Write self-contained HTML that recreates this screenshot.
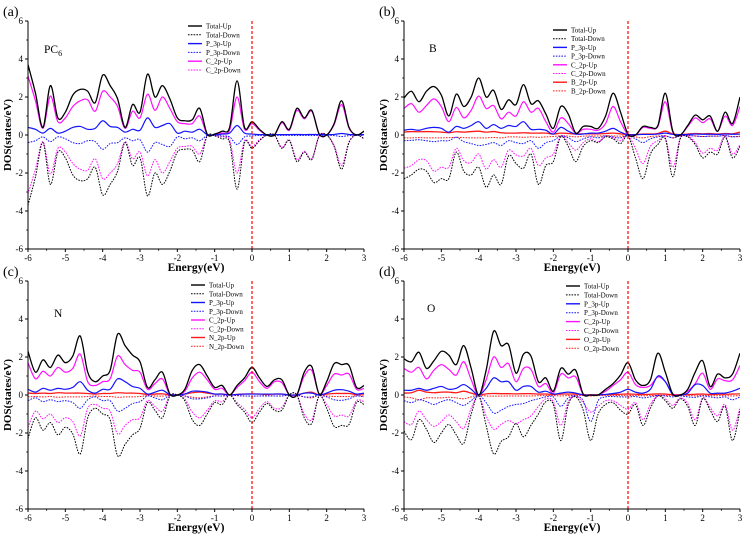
<!DOCTYPE html>
<html><head><meta charset="utf-8"><style>
html,body{margin:0;padding:0;background:#fff}
svg{display:block;font-family:"Liberation Serif",serif}
</style></head><body>
<svg id="fig" width="746" height="541" viewBox="0 0 746 541"></svg>
<script>
// energy grid: -6 to 3 in 0.2 eV steps (46 points)
const aTotalUp=[3.7,2.2,0.4,2.6,0.9,1.2,2.1,2.4,2.3,1.7,3.15,2.6,1.9,0.4,1.6,1.2,3.2,2.0,2.6,1.9,0.9,0.75,0.8,1.4,0.05,0.05,0.2,0.4,2.85,0.4,0.7,0.3,0,0,0.7,0.3,1.4,0.9,1.3,0.05,0,0.6,1.8,0.4,0,0.2];
const aCUp=[3.1,1.8,0.35,2.05,0.7,0.9,1.5,1.8,1.85,1.25,2.3,2.0,1.5,0.35,1.25,0.9,2.15,1.3,2.0,1.4,0.7,0.6,0.6,1.0,0.03,0.03,0.1,0.25,2.0,0.3,0.6,0.25,0,0,0.65,0.25,1.3,0.85,1.25,0.05,0,0.55,1.6,0.35,0,0.2];
const aPUp=[0.4,0.3,0.1,0.35,0.1,0.2,0.4,0.45,0.3,0.35,0.75,0.45,0.4,0.15,0.3,0.25,0.9,0.4,0.5,0.6,0.1,0.2,0.15,0.3,0.02,0,0.05,0.1,0.5,0.1,0.05,0.02,0.02,0.02,0.02,0.02,0.03,0.02,0.03,0.02,0.02,0.03,0.08,0.03,0.02,0.02];

const bTotalUp=[1.95,2.3,1.75,2.3,2.55,2.1,1.0,2.15,1.5,2.0,3.0,2.0,2.35,1.35,1.85,1.6,2.65,1.65,1.8,1.1,0.35,1.5,1.1,0.1,0.45,0.45,0.35,1.0,2.2,1.2,0.05,0,0.45,0.4,0.5,2.2,0.2,0,0.5,1.05,0.8,1.0,0.2,1.2,0.6,2.0];
const bCUp=[1.4,1.65,1.2,1.55,1.9,1.5,0.7,1.45,0.9,1.3,2.05,1.4,1.55,0.85,1.2,1.0,1.75,1.2,1.4,0.7,0.15,0.9,0.6,0.1,0.3,0.3,0.25,0.6,1.5,0.7,0.02,0,0.4,0.35,0.45,1.75,0.15,0,0.45,0.9,0.65,0.85,0.2,1.0,0.5,1.5];
const bPUp=[0.25,0.3,0.25,0.35,0.4,0.35,0.15,0.45,0.35,0.5,0.7,0.35,0.55,0.35,0.5,0.45,0.7,0.3,0.3,0.25,0.05,0.4,0.2,0.05,0.05,0.1,0.1,0.2,0.35,0.15,0.02,0.02,0.03,0.03,0.05,0.1,0.03,0.02,0.03,0.05,0.04,0.04,0.03,0.05,0.04,0.05];
const bXUp=[0.15,0.18,0.17,0.18,0.17,0.15,0.12,0.17,0.15,0.18,0.2,0.15,0.18,0.12,0.1,0.1,0.12,0.1,0.1,0.1,0.05,0.1,0.08,0.05,0.06,0.06,0.06,0.08,0.1,0.06,0.02,0.02,0.05,0.05,0.08,0.2,0.05,0.02,0.05,0.08,0.06,0.08,0.05,0.08,0.06,0.15];
const bTotalDn=[-2.3,-2.1,-1.8,-1.9,-2.5,-2.3,-2.3,-0.9,-1.9,-2.1,-1.7,-2.75,-2.1,-2.6,-1.1,-1.5,-1.75,-1.0,-2.6,-1.6,-1.4,-0.1,-0.6,-1.4,-0.6,-0.3,-0.4,-0.1,-0.2,-0.45,-0.05,-1.2,-2.3,-1.0,-0.5,-0.2,-2.2,-0.2,-0.1,-0.5,-1.2,-0.9,-1.0,-0.1,-1.2,-0.6];
const bCDn=[-1.75,-1.6,-1.3,-1.35,-1.9,-1.7,-1.7,-0.7,-1.35,-1.45,-1.0,-1.8,-1.3,-1.7,-0.8,-1.05,-1.1,-0.7,-1.6,-1.2,-1.0,-0.05,-0.4,-0.8,-0.4,-0.2,-0.35,-0.05,-0.15,-0.3,-0.03,-0.7,-1.5,-0.6,-0.3,-0.15,-1.7,-0.15,-0.05,-0.4,-0.95,-0.7,-0.8,-0.05,-1.0,-0.5];
const bPDn=[-0.3,-0.28,-0.25,-0.3,-0.35,-0.3,-0.3,-0.12,-0.35,-0.45,-0.55,-0.5,-0.4,-0.55,-0.3,-0.4,-0.45,-0.3,-0.7,-0.4,-0.3,-0.05,-0.15,-0.35,-0.2,-0.1,-0.15,-0.05,-0.1,-0.15,-0.02,-0.2,-0.4,-0.2,-0.1,-0.05,-0.15,-0.05,-0.03,-0.05,-0.08,-0.06,-0.06,-0.03,-0.1,-0.08];
const bXDn=[-0.15,-0.15,-0.14,-0.15,-0.15,-0.15,-0.14,-0.12,-0.14,-0.15,-0.15,-0.15,-0.13,-0.15,-0.1,-0.1,-0.12,-0.1,-0.12,-0.1,-0.08,-0.04,-0.06,-0.1,-0.06,-0.05,-0.05,-0.04,-0.05,-0.06,-0.02,-0.1,-0.15,-0.08,-0.05,-0.04,-0.15,-0.04,-0.03,-0.05,-0.08,-0.06,-0.06,-0.03,-0.08,-0.06];

const cTotalUp=[2.3,1.2,1.85,1.45,2.1,1.7,2.05,3.1,1.2,0.7,1.0,1.3,3.2,2.6,2.1,1.75,0.4,0.8,1.2,0.05,0,0.3,1.3,1.6,1.0,0.4,0.5,0,0.5,0.9,1.45,0.9,0.45,0.8,0.8,0,0,1.2,1.5,0.05,0.7,1.65,1.6,1.55,0.4,0.5];
const cCUp=[1.7,0.85,1.25,1.0,1.45,1.2,1.4,2.15,0.7,0.5,0.7,0.85,2.05,1.6,1.3,1.2,0.3,0.6,0.85,0.03,0,0.2,0.9,1.2,0.8,0.3,0.35,0,0.4,0.75,1.2,0.7,0.35,0.7,0.65,0,0,1.0,1.3,0.05,0.5,1.1,1.05,1.1,0.3,0.35];
const cPUp=[0.3,0.15,0.35,0.25,0.35,0.3,0.4,0.7,0.25,0.1,0.3,0.3,0.85,0.7,0.45,0.35,0.05,0.15,0.25,0.02,0,0.05,0.2,0.2,0.15,0.05,0.05,0,0.03,0.05,0.05,0.05,0.05,0.05,0.05,0,0,0.1,0.1,0,0.1,0.25,0.28,0.2,0.05,0.1];
const cXUp=[0.1,0.08,0.1,0.08,0.12,0.1,0.1,0.1,0.08,0.05,0.08,0.08,0.12,0.1,0.1,0.08,0.03,0.05,0.06,0.01,0,0.05,0.12,0.15,0.1,0.05,0.05,0,0.03,0.05,0.06,0.05,0.03,0.05,0.05,0,0,0.1,0.15,0,0.05,0.08,0.08,0.08,0.03,0.05];

const dTotalUp=[1.9,1.75,2.25,1.4,1.8,2.3,2.1,1.6,2.6,1.4,0,1.3,3.35,2.6,2.65,1.15,2.15,2.05,0.7,0.9,0.2,1.4,1.1,1.3,0.05,0,0,0.3,0.6,1.05,1.7,0.8,0.5,0.8,2.2,1.2,0.05,0,0.3,1.2,1.8,0.45,1.1,0.9,1.1,2.2];
const dCUp=[1.4,1.2,1.45,0.85,1.3,1.6,1.35,1.05,1.75,0.8,0,0.8,2.0,1.45,1.65,0.7,1.4,1.35,0.45,0.6,0.1,1.1,0.9,0.95,0.03,0,0,0.2,0.5,0.8,1.2,0.55,0.4,0.5,0.95,0.7,0.05,0,0.2,0.6,1.15,0.3,0.85,0.75,0.8,1.55];
const dPUp=[0.25,0.25,0.35,0.25,0.35,0.45,0.3,0.35,0.55,0.3,0,0.35,0.9,0.7,0.7,0.25,0.45,0.45,0.15,0.2,0.05,0.1,0.15,0.1,0,0,0,0.03,0.08,0.15,0.3,0.15,0.1,0.3,1.0,0.7,0.02,0,0.1,0.55,0.5,0.1,0.1,0.1,0.2,0.35];
const dXUp=[0.1,0.12,0.25,0.15,0.12,0.15,0.15,0.12,0.2,0.1,0,0.06,0.08,0.07,0.07,0.06,0.07,0.07,0.05,0.05,0.03,0.05,0.05,0.05,0.02,0.01,0.01,0.02,0.03,0.04,0.05,0.04,0.03,0.04,0.06,0.05,0.02,0.01,0.02,0.04,0.05,0.03,0.04,0.04,0.05,0.06];
const dTotalDn=[-1.9,-2.35,-1.3,-1.8,-2.5,-2.0,-1.55,-2.1,-2.55,-1.0,-0.05,-1.6,-3.1,-2.45,-2.2,-1.5,-2.2,-1.6,-1.0,-0.35,-0.5,-2.4,-0.5,-0.1,-0.8,-2.4,-1.0,-0.5,-0.4,-0.8,-1.0,-0.5,-1.6,-0.7,-0.05,-0.3,-0.7,-0.2,-0.6,-1.6,-0.2,-0.8,-1.4,-0.6,-2.4,-0.8];
const dCDn=[-1.4,-1.55,-0.85,-1.3,-1.65,-1.4,-1.05,-1.4,-1.75,-0.7,-0.03,-1.1,-1.8,-1.55,-1.35,-1.5,-1.3,-1.1,-0.6,-0.2,-0.35,-1.6,-0.35,-0.05,-0.4,-0.9,-0.6,-0.3,-0.3,-0.55,-0.75,-0.4,-1.3,-0.5,-0.03,-0.2,-0.55,-0.15,-0.45,-1.3,-0.15,-0.65,-1.1,-0.5,-1.85,-0.65];
const dPDn=[-0.3,-0.4,-0.25,-0.35,-0.5,-0.35,-0.25,-0.4,-0.55,-0.3,0,-0.4,-0.95,-0.8,-0.6,-0.5,-0.45,-0.3,-0.2,-0.1,-0.1,-0.6,-0.15,-0.05,-0.3,-1.4,-0.3,-0.1,-0.08,-0.1,-0.1,-0.08,-0.15,-0.1,-0.02,-0.05,-0.1,-0.05,-0.1,-0.12,-0.05,-0.1,-0.15,-0.1,-0.25,-0.1];
const dXDn=[-0.1,-0.15,-0.25,-0.15,-0.15,-0.15,-0.12,-0.15,-0.2,-0.1,0,-0.05,-0.06,-0.06,-0.05,-0.05,-0.05,-0.05,-0.04,-0.03,-0.03,-0.05,-0.03,-0.02,-0.03,-0.05,-0.03,-0.02,-0.02,-0.03,-0.03,-0.02,-0.04,-0.03,-0.01,-0.02,-0.03,-0.02,-0.02,-0.04,-0.02,-0.03,-0.04,-0.03,-0.05,-0.03];

const xTicks=[-6,-5,-4,-3,-2,-1,0,1,2,3];
const yTicks=[-6,-4,-2,0,2,4,6];

const NS="http://www.w3.org/2000/svg";
const svg=document.getElementById('fig');
function el(tag,attrs,parent){const e=document.createElementNS(NS,tag);for(const k in attrs)e.setAttribute(k,attrs[k]);(parent||svg).appendChild(e);return e;}
function neg(a){return a.map(v=>-v);}

const BLUE="#1414ff",MAG="#ff10ff",RED="#ff1a1a";
const panels=[
 {id:'a',x0:28,x1:364,y0:21,y1:249,tag:'(a)',lab:'PC',sub:'6',labX:44,labY:53,legX:188,legY:26,legDy:8.8,
  series:[['Total-Up',aTotalUp,'#000',false,1.3],['Total-Down',neg(aTotalUp),'#000',true,1],['P_3p-Up',aPUp,BLUE,false,1.2],['P_3p-Down',neg(aPUp),BLUE,true,1],['C_2p-Up',aCUp,MAG,false,1.2],['C_2p-Down',neg(aCUp),MAG,true,1]]},
 {id:'b',x0:404,x1:740,y0:21,y1:249,tag:'(b)',lab:'B',sub:'',labX:429,labY:52,legX:553,legY:30,legDy:8.7,
  series:[['Total-Up',bTotalUp,'#000',false,1.3],['Total-Down',bTotalDn,'#000',true,1],['P_3p-Up',bPUp,BLUE,false,1.2],['P_3p-Down',bPDn,BLUE,true,1],['C_2p-Up',bCUp,MAG,false,1.2],['C_2p-Down',bCDn,MAG,true,1],['B_2p-Up',bXUp,RED,false,1.3],['B_2p-Down',bXDn,RED,true,1]]},
 {id:'c',x0:28,x1:364,y0:281,y1:509,tag:'(c)',lab:'N',sub:'',labX:54,labY:317,legX:191,legY:285,legDy:8.75,
  series:[['Total-Up',cTotalUp,'#000',false,1.3],['Total-Down',neg(cTotalUp),'#000',true,1],['P_3p-Up',cPUp,BLUE,false,1.2],['P_3p-Down',neg(cPUp),BLUE,true,1],['C_2p-Up',cCUp,MAG,false,1.2],['C_2p-Down',neg(cCUp),MAG,true,1],['N_2p-Up',cXUp,RED,false,1.3],['N_2p-Down',neg(cXUp),RED,true,1]]},
 {id:'d',x0:404,x1:740,y0:281,y1:509,tag:'(d)',lab:'O',sub:'',labX:427,labY:312,legX:566,legY:286,legDy:8.9,
  series:[['Total-Up',dTotalUp,'#000',false,1.3],['Total-Down',dTotalDn,'#000',true,1],['P_3p-Up',dPUp,BLUE,false,1.2],['P_3p-Down',dPDn,BLUE,true,1],['C_2p-Up',dCUp,MAG,false,1.2],['C_2p-Down',dCDn,MAG,true,1],['O_2p-Up',dXUp,RED,false,1.3],['O_2p-Down',dXDn,RED,true,1]]}
];

function smoothPath(pts){
  let d=`M${pts[0][0].toFixed(2)},${pts[0][1].toFixed(2)}`;
  for(let i=0;i<pts.length-1;i++){
    const p0=pts[Math.max(0,i-1)],p1=pts[i],p2=pts[i+1],p3=pts[Math.min(pts.length-1,i+2)];
    const c1=[p1[0]+(p2[0]-p0[0])/6,p1[1]+(p2[1]-p0[1])/6];
    const c2=[p2[0]-(p3[0]-p1[0])/6,p2[1]-(p3[1]-p1[1])/6];
    d+=`C${c1[0].toFixed(2)},${c1[1].toFixed(2)} ${c2[0].toFixed(2)},${c2[1].toFixed(2)} ${p2[0].toFixed(2)},${p2[1].toFixed(2)}`;
  }
  return d;
}

panels.forEach(p=>{
  const g=el('g',{});
  
  
  const sx=v=>p.x0+(v+6)/9*(p.x1-p.x0);
  const sy=v=>p.y1-(v+6)/12*(p.y1-p.y0);
  // clip
  const cp=el('clipPath',{id:'clip'+p.id},g);
  el('rect',{x:p.x0,y:p.y0,width:p.x1-p.x0,height:p.y1-p.y0},cp);
  // series
  const sg=el('g',{'clip-path':`url(#clip${p.id})`},g);
  p.series.slice().reverse().forEach(s=>{
    const pts=s[1].map((v,i)=>[sx(-6+0.2*i),sy(v)]);
    const path=el('path',{d:smoothPath(pts),fill:'none',stroke:s[2],'stroke-width':s[4],'stroke-dasharray':s[3]?'1.6,1.2':'none','stroke-linejoin':'round'},sg);
    
    
  });
  // fermi line
  const fl=el('line',{x1:sx(0),x2:sx(0),y1:p.y0,y2:p.y1,stroke:'#ff0000','stroke-width':1.2,'stroke-dasharray':'3,2'},g);
  
  
  // axes
  const ax=el('path',{d:`M${p.x0},${p.y0}V${p.y1}H${p.x1}`,fill:'none',stroke:'#000','stroke-width':1},g);
  
  
  xTicks.forEach((t,i)=>{
    el('line',{x1:sx(t),x2:sx(t),y1:p.y1,y2:p.y1+3,stroke:'#000','stroke-width':1},g);
    if(i<xTicks.length-1) el('line',{x1:sx(t+0.5),x2:sx(t+0.5),y1:p.y1,y2:p.y1+1.8,stroke:'#000','stroke-width':0.8},g);
    const tx=el('text',{x:sx(t),y:p.y1+12,'font-size':9,'text-anchor':'middle'},g);
    tx.textContent=t;
    
    
  });
  yTicks.forEach((t,i)=>{
    el('line',{x1:p.x0-3,x2:p.x0,y1:sy(t),y2:sy(t),stroke:'#000','stroke-width':1},g);
    if(i<yTicks.length-1) el('line',{x1:p.x0-1.8,x2:p.x0,y1:sy(t+1),y2:sy(t+1),stroke:'#000','stroke-width':0.8},g);
    const ty=el('text',{x:p.x0-5,y:sy(t)+3,'font-size':9,'text-anchor':'end'},g);
    ty.textContent=t;
    
    
  });
  const xt=el('text',{x:(p.x0+p.x1)/2,y:p.y1+22,'font-size':11.5,'font-weight':'bold','text-anchor':'middle'},g);
  xt.textContent='Energy(eV)';
  
  
  const cy=(p.y0+p.y1)/2, yx=p.x0-17;
  const yt=el('text',{x:yx,y:cy,'font-size':11,'font-weight':'bold','text-anchor':'middle',transform:`rotate(-90 ${yx} ${cy})`},g);
  yt.textContent='DOS(states/eV)';
  
  
  const pt=el('text',{x:p.x0-25,y:p.y0-5,'font-size':14},g);
  pt.textContent=p.tag;
  
  
  const lb=el('text',{x:p.labX,y:p.labY,'font-size':11.5},g);
  lb.textContent=p.lab;
  if(p.sub){const ts=el('tspan',{'font-size':8,dy:3},lb);ts.textContent=p.sub;}
  
  
  // legend
  p.series.forEach((s,i)=>{
    const ly=p.legY+i*p.legDy;
    const lg=el('g',{},g);
    
    
    el('line',{x1:p.legX,x2:p.legX+14,y1:ly,y2:ly,stroke:s[2],'stroke-width':s[3]?1:1.4,'stroke-dasharray':s[3]?'1.6,1.2':'none'},lg);
    const lt=el('text',{x:p.legX+18,y:ly+2.5,'font-size':7},lg);
    lt.textContent=s[0];
  });
});
</script>
</body></html>
